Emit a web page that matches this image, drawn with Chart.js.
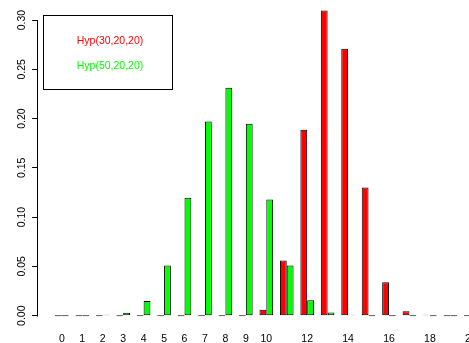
<!DOCTYPE html>
<html><head><meta charset="utf-8">
<script src="https://cdn.jsdelivr.net/npm/chart.js@4/dist/chart.umd.min.js"></script>
<style>
html,body{margin:0;padding:0;background:#fff;overflow:hidden}
#wrap{position:relative;width:469px;height:343px;overflow:hidden;background:#fff}
#c{position:absolute;left:0;top:0}
</style></head><body>
<div id="wrap"><canvas id="c" width="500" height="343"></canvas></div>
<script>
const categories = ['0','1','2','3','4','5','6','7','8','9','10','11','12','13','14','15','16','17','18','19','20'];
const xTickLabels = ['0','1','2','3','4','5','6','7','8','9','10','','12','','14','','16','','18','','20'];
const seriesLabels = ['Hyp(30,20,20)', 'Hyp(50,20,20)'];
const hyp30 = [0,0,0,0,0,0,0,0,0,0,0.0061,0.0559,0.1887,0.3096,0.2709,0.1300,0.0339,0.0046,0.0003,0,0];
const hyp50 = [0,0,0.0003,0.0029,0.0150,0.0510,0.1196,0.1970,0.2312,0.1947,0.1178,0.0510,0.0156,0.0033,0.0005,0,0,0,0,0,0];
const yTickValues = [0,0.05,0.10,0.15,0.20,0.25,0.30];
const yTickLabels = ['0.00','0.05','0.10','0.15','0.20','0.25','0.30'];

const FONT = '"Liberation Sans", Arial, Helvetica, sans-serif';

const rStyle = {
  id: 'rStyle',
  afterDraw(chart) {
    const ctx = chart.ctx, ys = chart.scales.y;
    ctx.save();
    ctx.strokeStyle = '#000';
    ctx.lineWidth = 1;
    const ax = Math.round(ys.right) - 0.5;
    ctx.beginPath();
    ctx.moveTo(ax, Math.round(ys.getPixelForValue(yTickValues[yTickValues.length-1])) + 0.5);
    ctx.lineTo(ax, Math.round(ys.getPixelForValue(yTickValues[0])) + 0.5);
    ctx.stroke();
    ctx.fillStyle = '#000';
    ctx.font = '10.5px ' + FONT;
    ctx.textAlign = 'center';
    ctx.textBaseline = 'alphabetic';
    yTickValues.forEach((v, i) => {
      const py = ys.getPixelForValue(v);
      ctx.save();
      ctx.translate(ys.right - 13.6, py);
      ctx.rotate(-Math.PI / 2);
      ctx.fillText(yTickLabels[i], 0, 0);
      ctx.restore();
    });
    ctx.strokeStyle = '#000';
    ctx.strokeRect(43.5, 15.5, 129, 74);
    ctx.textBaseline = 'middle';
    ctx.textAlign = 'center';
    chart.data.datasets.forEach((ds, i) => {
      ctx.fillStyle = ds.backgroundColor;
      ctx.fillText(ds.label, 110, 41 + i * 25);
    });
    ctx.restore();
  }
};

new Chart(document.getElementById('c'), {
  type: 'bar',
  data: {
    datasets: [
      { label: seriesLabels[0], data: hyp30.map((v, i) => ({x: i, y: v})),
        backgroundColor: '#ff0000', borderColor: '#000', borderWidth: 1, borderSkipped: false,
        minBarLength: 1, categoryPercentage: 2/3, barPercentage: 1 },
      { label: seriesLabels[1], data: hyp50.map((v, i) => ({x: i, y: v})),
        backgroundColor: '#00ff00', borderColor: '#000', borderWidth: 1, borderSkipped: false,
        minBarLength: 1, categoryPercentage: 2/3, barPercentage: 1 }
    ]
  },
  options: {
    responsive: false,
    devicePixelRatio: 1,
    animation: false,
    layout: { padding: { left: 0, top: 0, right: 5.5, bottom: 0 } },
    plugins: { legend: { display: false }, tooltip: { enabled: false } },
    scales: {
      x: {
        type: 'linear', min: -1.16, max: 21.16, offset: false,
        grid: { display: false, drawTicks: false },
        border: { display: false },
        afterBuildTicks: s => { s.ticks = categories.map((c, i) => ({ value: i })); },
        ticks: { autoSkip: false, maxRotation: 0, minRotation: 0, padding: 5, color: '#000',
                 font: { family: FONT, size: 10.5 },
                 callback: (v, i) => xTickLabels[i] },
        afterFit: s => { s.height = 15; }
      },
      y: {
        min: -0.0125, max: 0.3203,
        grid: { display: true, drawOnChartArea: false, drawTicks: true, tickLength: 6, color: '#000', lineWidth: 1 },
        border: { display: false },
        afterBuildTicks: s => { s.ticks = yTickValues.map(v => ({ value: v })); },
        ticks: { display: false },
        afterFit: s => { s.width = 38.1; }
      }
    }
  },
  plugins: [rStyle]
});
</script>
</body></html>
